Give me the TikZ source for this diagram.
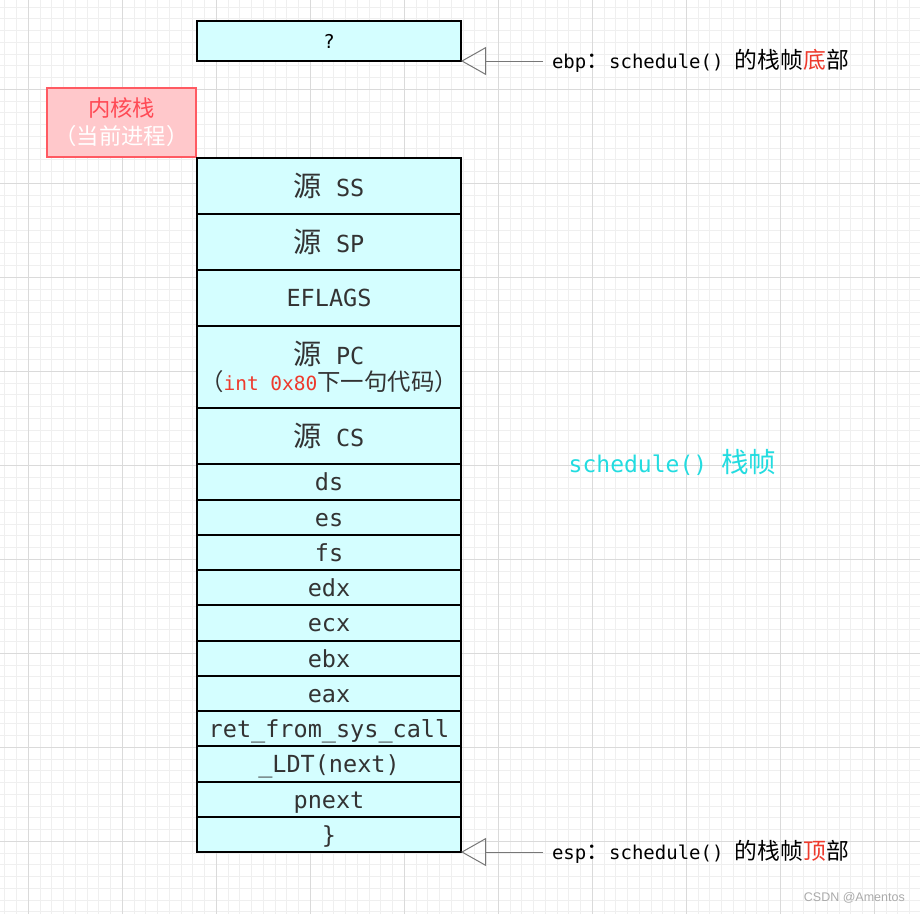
\documentclass[tikz,border=0pt]{standalone}
\usepackage{fontspec}
\setmainfont{Noto Sans CJK SC}
\newfontfamily\mono{DejaVu Sans Mono}
\newfontfamily\cjk[Scale=1.2]{Noto Sans CJK SC}
\newfontfamily\wmfont{Liberation Sans}
\usetikzlibrary{arrows.meta}
\definecolor{cellfill}{HTML}{D4FEFF}
\definecolor{textgray}{HTML}{333333}
\definecolor{gridminor}{HTML}{EFEFEF}
\definecolor{gridmajor}{HTML}{DADADA}
\definecolor{arrowgray}{HTML}{777777}
\definecolor{hired}{HTML}{EE3A2C}
\definecolor{schedcyan}{HTML}{22DCE0}
\definecolor{kfill}{HTML}{FFC8CB}
\definecolor{kdraw}{HTML}{FF5A62}
\definecolor{ktext}{HTML}{FF4A55}
\definecolor{wmgray}{HTML}{AAAAAA}
\newcommand\zh[1]{{\cjk #1}}
\tikzset{
  cell/.style={draw=black, line width=1.5pt, fill=cellfill, minimum width=264pt,
    inner sep=0pt, outer sep=0pt, text=textgray, align=center,
    font=\mono\fontsize{23.5}{28}\selectfont},
  row/.style={cell, text height=21pt, text depth=4pt},
  lbl/.style={inner sep=0pt, outer sep=0pt, text=black, anchor=west,
    font=\mono\fontsize{19}{22}\selectfont},
  pointer/.style={draw=arrowgray, line width=1pt,
    -{Triangle[open, length=25pt, width=28pt]}},
  minorline/.style={draw=gridminor, line width=0.8pt},
  majorline/.style={draw=gridmajor, line width=1pt},
}
\begin{document}
\begin{tikzpicture}[x=1pt, y=-1pt]
\useasboundingbox (0,0) rectangle (920,914);
\fill[white] (0,0) rectangle (920,914);
% grid
\foreach \i in {0,...,78} {\draw[minorline] ({4.8+11.75*\i},0) -- ({4.8+11.75*\i},914);}
\foreach \i in {0,...,77} {\draw[minorline] (0,{7.05+11.75*\i}) -- (920,{7.05+11.75*\i});}
\foreach \i in {0,...,9} {\draw[majorline] ({28.3+94*\i},0) -- ({28.3+94*\i},914);}
\foreach \i in {0,...,8} {\draw[majorline] (0,{89.3+94*\i}) -- (920,{89.3+94*\i});}

% top box
\node[cell, minimum height=40pt, text=black, font=\mono\fontsize{19}{22}\selectfont] (q) at (329,41) {?};

% kernel stack label
\node[draw=kdraw, line width=1.5pt, fill=kfill, minimum width=149pt, minimum height=69pt,
  inner sep=0pt, align=center, font=\cjk\fontsize{18.6}{24}\selectfont] (kstack) at (121.5,122.5)
  {\textcolor{ktext}{内核栈}\\[4pt]\textcolor{white}{（当前进程）}};

% stack cells
\node[cell, minimum height=56pt] (ss) at (329,186) {\zh{源} SS};
\node[cell, minimum height=56pt] (sp) at (329,242) {\zh{源} SP};
\node[cell, minimum height=56pt] (eflags) at (329,298) {EFLAGS};
\node[cell, minimum height=82pt] (pc) at (329,367)
  {\zh{源} PC\\[-2pt]{\fontsize{19.5}{22}\selectfont\zh{（}\textcolor{hired}{int 0x80}\zh{下一句代码）}}};
\node[cell, minimum height=56pt] (cs) at (329,436) {\zh{源} CS};
\node[row, minimum height=36pt] (ds) at (329,482) {ds};
\node[row, minimum height=35pt] (es) at (329,517.5) {es};
\node[row, minimum height=35pt] (fs) at (329,552.5) {fs};
\node[row, minimum height=35pt] (edx) at (329,587.5) {edx};
\node[row, minimum height=36pt] (ecx) at (329,623) {ecx};
\node[row, minimum height=35pt] (ebx) at (329,658.5) {ebx};
\node[row, minimum height=35pt] (eax) at (329,693.5) {eax};
\node[row, minimum height=35pt] (ret) at (329,728.5) {ret\_from\_sys\_call};
\node[row, minimum height=36pt] (ldt) at (329,764) {\_LDT(next)};
\node[row, minimum height=35pt] (pnext) at (329,799.5) {pnext};
\node[row, minimum height=35pt] (brace) at (329,834.5) {\}};

% labels
\node[lbl] (ebp) at (552,61) {ebp\zh{：}schedule() \zh{的栈帧}\textcolor{hired}{\zh{底}}\zh{部}};
\node[lbl] (esp) at (552,852) {esp\zh{：}schedule() \zh{的栈帧}\textcolor{hired}{\zh{顶}}\zh{部}};
\draw[pointer] ([xshift=-9pt]ebp.west) -- (q.south east);
\draw[pointer] ([xshift=-9pt]esp.west) -- (brace.south east);

\node[inner sep=0pt, text=schedcyan, font=\mono\fontsize{23}{27}\selectfont] (sched) at (672.5,462)
  {schedule() \zh{栈帧}};

\node[inner sep=0pt, anchor=east, text=wmgray, font=\wmfont\fontsize{12.5}{14}\selectfont] (wm) at (905,898)
  {CSDN @Amentos};
\end{tikzpicture}
\end{document}
